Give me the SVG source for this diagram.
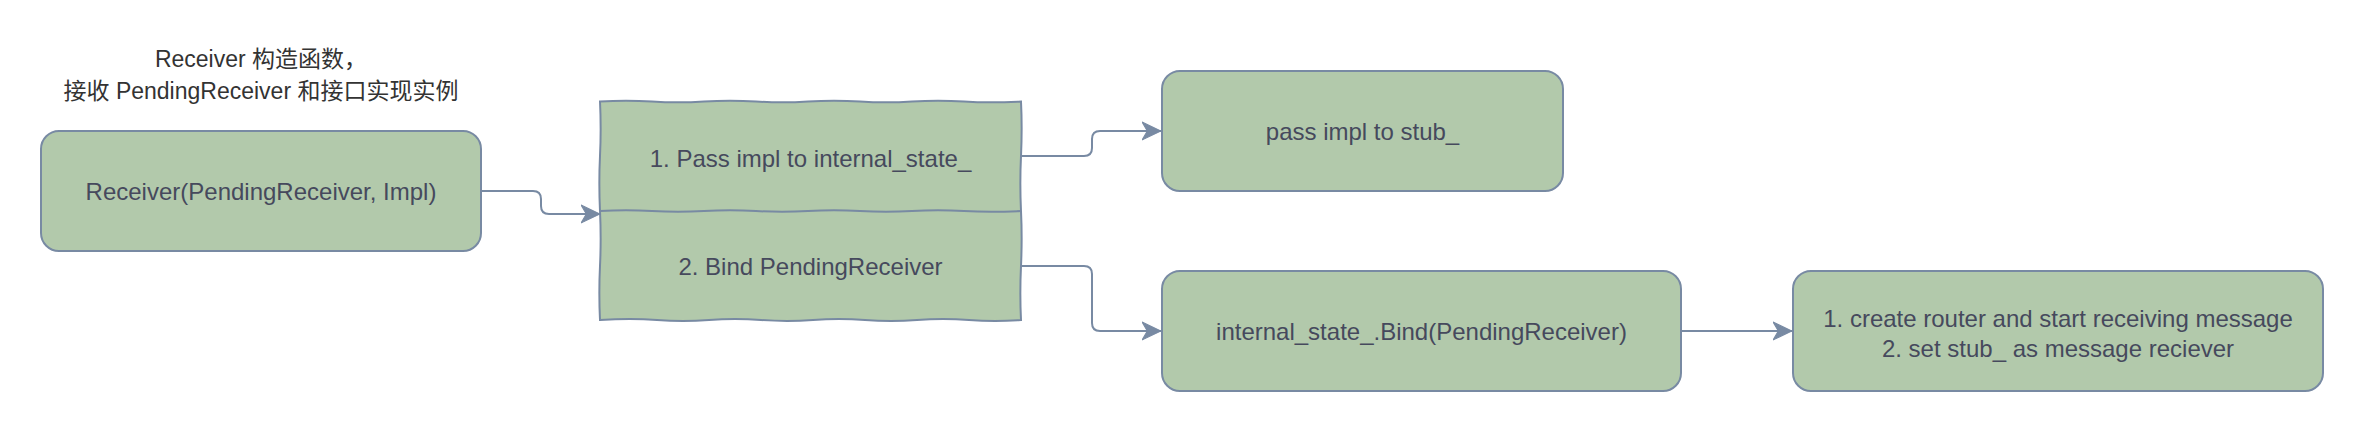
<svg xmlns="http://www.w3.org/2000/svg" width="2364" height="432" viewBox="0 0 2364 432">
<style>
.box{fill:#B2C9AB;stroke:#788AA3;stroke-width:2}
.t{font-family:"Liberation Sans","Noto Sans CJK SC",sans-serif;font-size:24px;fill:#46495D;text-anchor:middle;dominant-baseline:central}
.title{font-family:"Liberation Sans","Noto Sans CJK SC",sans-serif;font-size:23px;fill:#333333;text-anchor:middle;dominant-baseline:central}
.edge{fill:none;stroke:#788AA3;stroke-width:2;marker-end:url(#arr)}
</style>
<defs>
<marker id="arr" markerUnits="userSpaceOnUse" markerWidth="20" markerHeight="20" viewBox="0 0 19 19" refX="18" refY="9.5" orient="auto">
<path d="M0,1 L18,9.5 L0,18 L5,9.5 Z" fill="#788AA3" stroke="#788AA3" stroke-width="1"/>
</marker>
</defs>
<g id="title">
<text class="title" x="261" y="59">Receiver 构造函数，</text>
<text class="title" x="261" y="91">接收 PendingReceiver 和接口实现实例</text>
</g>
<g id="node-receiver">
<rect class="box" x="41" y="131" width="440" height="120" rx="18" ry="18"/>
<text class="t" x="261" y="191">Receiver(PendingReceiver, Impl)</text>
</g>
<g id="node-steps">
<path class="box" d="M600,101.5 Q626,99.8 652,101.5 T704,101.5 T756,101.5 T808,101.5 T860,101.5 T912,101.5 T964,101.5 T1021,101.5 Q1022.3,128 1021,156 T1021,211 T1021,266 T1021,320 Q995,321.8 969,320 T917,320 T865,320 T813,320 T761,320 T709,320 T657,320 T600,320 Q598.7,293 600,266 T600,211 T600,156 T600,101.5 Z"/>
<path d="M600,211 Q626,209.4 652,211 T704,211 T756,211 T808,211 T860,211 T912,211 T964,211 T1021,211" fill="none" stroke="#788AA3" stroke-width="2"/>
<text class="t" x="810.5" y="158">1. Pass impl to internal_state_</text>
<text class="t" x="810.5" y="266">2. Bind PendingReceiver</text>
</g>
<g id="node-stub">
<rect class="box" x="1162" y="71" width="401" height="120" rx="18" ry="18"/>
<text class="t" x="1362.5" y="131">pass impl to stub_</text>
</g>
<g id="node-bind">
<rect class="box" x="1162" y="271" width="519" height="120" rx="18" ry="18"/>
<text class="t" x="1421.5" y="331">internal_state_.Bind(PendingReceiver)</text>
</g>
<g id="node-router">
<rect class="box" x="1793" y="271" width="530" height="120" rx="18" ry="18"/>
<text class="t" x="2058" y="318">1. create router and start receiving message</text>
<text class="t" x="2058" y="348">2. set stub_ as message reciever</text>
</g>
<g id="connectors">
<path class="edge" d="M481,191 H533 Q541,191 541,199 V206 Q541,214 549,214 H600"/>
<path class="edge" d="M1021,156 H1084 Q1092,156 1092,148 V139 Q1092,131 1100,131 H1161"/>
<path class="edge" d="M1021,266 H1084 Q1092,266 1092,274 V323 Q1092,331 1100,331 H1161"/>
<path class="edge" d="M1681,331 H1792"/>
</g>
</svg>
